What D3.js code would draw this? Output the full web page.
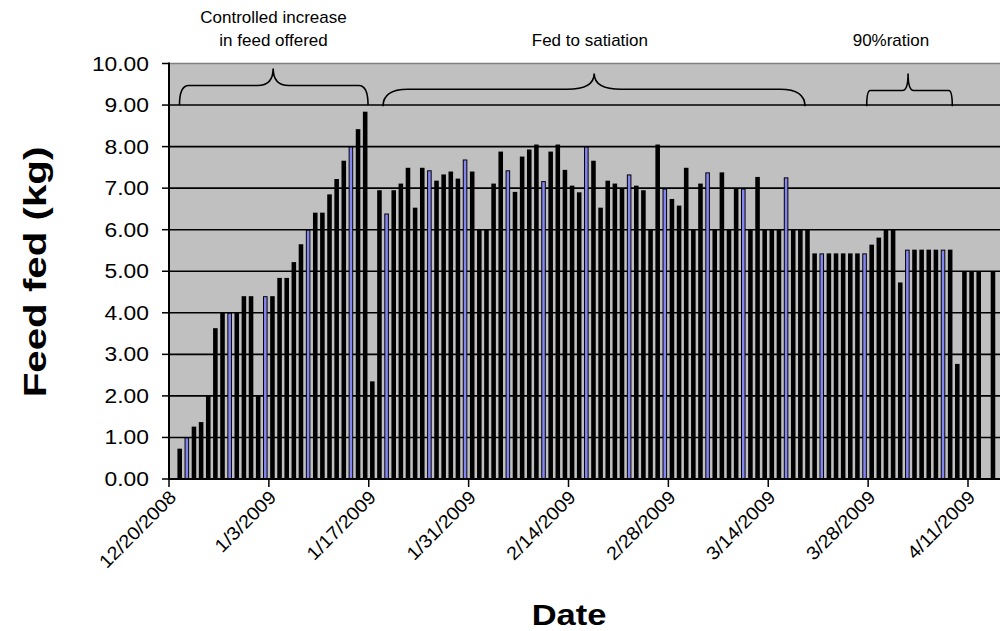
<!DOCTYPE html>
<html><head><meta charset="utf-8">
<script src="https://cdn.jsdelivr.net/npm/d3@7"></script>
<style>html,body{margin:0;padding:0;background:#fff;} svg{display:block;}</style>
</head><body><svg id="chart" width="1000" height="631"></svg>
<script>
// ---------- data ----------
const axisStart = "2008-12-20";
const firstDay = "2008-12-21";
const feedKg = [
  0.73, 1.00, 1.26, 1.37, 2.00, 3.63, 4.00, 4.00, 4.00, 4.40,
  4.40, 2.00, 4.40, 4.40, 4.84, 4.84, 5.22, 5.65, 6.00, 6.41,
  6.41, 6.85, 7.22, 7.66, 8.00, 8.42, 8.84, 2.35, 6.95, 6.39,
  6.95, 7.11, 7.49, 6.53, 7.49, 7.43, 7.18, 7.33, 7.40, 7.23,
  7.69, 7.40, 6.00, 6.00, 7.11, 7.88, 7.43, 6.91, 7.76, 7.93,
  8.05, 7.17, 7.88, 8.05, 7.44, 7.06, 6.90, 8.00, 7.66, 6.53,
  7.18, 7.11, 6.99, 7.33, 7.06, 6.95, 6.00, 8.05, 6.99, 6.74,
  6.58, 7.49, 6.00, 7.11, 7.38, 6.00, 7.38, 6.00, 6.99, 6.99,
  6.00, 7.27, 6.00, 6.00, 6.00, 7.26, 6.00, 6.00, 6.00, 5.43,
  5.43, 5.43, 5.43, 5.43, 5.43, 5.43, 5.43, 5.64, 5.81, 6.00,
  6.00, 4.73, 5.52, 5.52, 5.52, 5.52, 5.52, 5.52, 5.52, 2.77,
  5.00, 5.00, 5.00, null, 5.00
];
// 1-based positions of the days drawn in blue
const sampleDays = [2, 8, 13, 19, 25, 30, 36, 41, 47, 52, 58, 64, 69, 75, 80, 86, 91, 97, 103, 108];
const yTickValues = [0, 1, 2, 3, 4, 5, 6, 7, 8, 9, 10];
const xTickDates = ["2008-12-20", "2009-01-03", "2009-01-17", "2009-01-31", "2009-02-14",
                    "2009-02-28", "2009-03-14", "2009-03-28", "2009-04-11"];
const xTickLabels = ["12/20/2008", "1/3/2009", "1/17/2009", "1/31/2009", "2/14/2009",
                     "2/28/2009", "3/14/2009", "3/28/2009", "4/11/2009"];
// braces (days after axis start, kg)
const braceStartDay = [1.47, 30.0, 97.8];
const braceEndDay   = [27.9, 89.15, 109.8];
const bracePeakDay  = [14.6, 59.6, 103.6];
const braceBaseKg   = [9.0, 8.97, 8.97];
const braceArmKg    = [9.47, 9.38, 9.35];
const bracePeakKg   = [9.88, 9.76, 9.76];
const braceEndCurlDays = [1.3, 3.5, 0.5];
const braceMidCurlDays = [2.2, 3.8, 0.8];
const noteLines = [["Controlled increase", "in feed offered"], ["Fed to satiation"], ["90%ration"]];
const noteDay = [14.65, 59.0, 101.2];

// ---------- layout ----------
const svg = d3.select("#chart");
const parse = d3.utcParse("%Y-%m-%d");
const t0 = parse(axisStart);
const dayMs = 864e5;
const x = d3.scaleUtc().domain([t0, parse("2009-04-11")]).range([169, 968]);
const y = d3.scaleLinear().domain([0, 10]).range([479, 63.5]);
const xd = d => x(new Date(+t0 + d * dayMs));
const dayW = xd(1) - xd(0);
const plotLeft = x.range()[0], plotRight = 1010, plotTop = y(10), plotBottom = y(0);
const FONT = "'Liberation Sans', Arial, sans-serif";

svg.append("rect").attr("x", plotLeft).attr("y", plotTop)
  .attr("width", plotRight - plotLeft).attr("height", plotBottom - plotTop)
  .attr("fill", "#c0c0c0");

// gridlines
svg.append("g").selectAll("line").data(yTickValues.filter(v => v > 0 && v < 10)).join("line")
  .attr("x1", plotLeft).attr("x2", plotRight)
  .attr("y1", d => y(d)).attr("y2", d => y(d))
  .attr("stroke", "#000").attr("stroke-width", 1.6);
svg.append("line").attr("x1", plotLeft).attr("x2", plotRight)
  .attr("y1", plotTop).attr("y2", plotTop).attr("stroke", "#808080").attr("stroke-width", 1.5);

// bars
const f = parse(firstDay);
const bars = feedKg.map((v, i) => ({
  date: new Date(+f + i * dayMs), v, blue: sampleDays.includes(i + 1)
})).filter(d => d.v != null);
const bw = dayW * 0.64;
const g = svg.append("g");
g.selectAll("rect.k").data(bars.filter(d => !d.blue)).join("rect").attr("class", "k")
  .attr("x", d => x(d.date) + dayW / 2 - bw / 2).attr("width", bw)
  .attr("y", d => y(d.v)).attr("height", d => y(0) - y(d.v))
  .attr("fill", "#000");
g.selectAll("rect.b").data(bars.filter(d => d.blue)).join("rect").attr("class", "b")
  .attr("x", d => x(d.date) + dayW / 2 - bw / 2 + 0.5).attr("width", bw - 1)
  .attr("y", d => y(d.v) + 0.5).attr("height", d => y(0) - y(d.v) - 0.5)
  .attr("fill", "#8585f2").attr("stroke", "#000").attr("stroke-width", 1);

// axes
svg.append("line").attr("x1", plotLeft).attr("x2", plotLeft).attr("y1", plotTop - 1).attr("y2", plotBottom + 1)
  .attr("stroke", "#000").attr("stroke-width", 2);
svg.append("line").attr("x1", plotLeft - 1).attr("x2", plotRight).attr("y1", plotBottom).attr("y2", plotBottom)
  .attr("stroke", "#000").attr("stroke-width", 2);
svg.append("g").selectAll("line").data(yTickValues).join("line")
  .attr("x1", plotLeft - 7).attr("x2", plotLeft).attr("y1", d => y(d)).attr("y2", d => y(d))
  .attr("stroke", "#000").attr("stroke-width", 1.5);
svg.append("g").selectAll("text").data(yTickValues).join("text")
  .attr("transform", d => `translate(149,${y(d)}) scale(1.17,1)`)
  .attr("text-anchor", "end").attr("dy", "0.36em")
  .attr("font-family", FONT).attr("font-size", 19.5).attr("fill", "#000")
  .text(d3.format(".2f"));

const xt = xTickDates.map(parse);
svg.append("g").selectAll("line").data(xt).join("line")
  .attr("x1", d => x(d)).attr("x2", d => x(d)).attr("y1", plotBottom).attr("y2", plotBottom + 8)
  .attr("stroke", "#000").attr("stroke-width", 1.5);
svg.append("g").selectAll("text").data(xt).join("text")
  .attr("transform", d => `translate(${x(d) - 1},${plotBottom + 10}) rotate(-45) scale(1.08,1)`)
  .attr("text-anchor", "end").attr("dy", "0.72em")
  .attr("font-family", FONT).attr("font-size", 18.5).attr("fill", "#000")
  .text((d, i) => xTickLabels[i]);

// axis titles
svg.append("text").attr("transform", "translate(46,272) rotate(-90) scale(1.26,1)")
  .attr("text-anchor", "middle").attr("font-family", FONT).attr("font-weight", "bold")
  .attr("font-size", 32).text("Feed fed (kg)");
svg.append("text").attr("transform", "translate(569,625) scale(1.15,1)")
  .attr("text-anchor", "middle").attr("font-family", FONT).attr("font-weight", "bold")
  .attr("font-size", 30).text("Date");

// braces
const bracePath = i => {
  const x0 = xd(braceStartDay[i]), x1 = xd(braceEndDay[i]), xm = xd(bracePeakDay[i]);
  const re = braceEndCurlDays[i] * dayW, rm = braceMidCurlDays[i] * dayW;
  const yb = y(braceBaseKg[i]), ya = y(braceArmKg[i]), yp = y(bracePeakKg[i]);
  return `M${x0},${yb} Q${x0},${ya} ${x0 + re},${ya} L${xm - rm},${ya} Q${xm},${ya} ${xm},${yp} ` +
         `Q${xm},${ya} ${xm + rm},${ya} L${x1 - re},${ya} Q${x1},${ya} ${x1},${yb}`;
};
svg.append("g").selectAll("path").data(braceStartDay.map((_, i) => i)).join("path")
  .attr("d", bracePath).attr("fill", "none").attr("stroke", "#000").attr("stroke-width", 1.6);

// notes
noteLines.forEach((lines, i) => {
  const baseY = lines.length === 2 ? 23 : 46;
  lines.forEach((s, j) => {
    svg.append("text").attr("x", xd(noteDay[i])).attr("y", baseY + j * 23)
      .attr("text-anchor", "middle").attr("font-family", FONT).attr("font-size", 17)
      .attr("fill", "#000").text(s);
  });
});
</script></body></html>
